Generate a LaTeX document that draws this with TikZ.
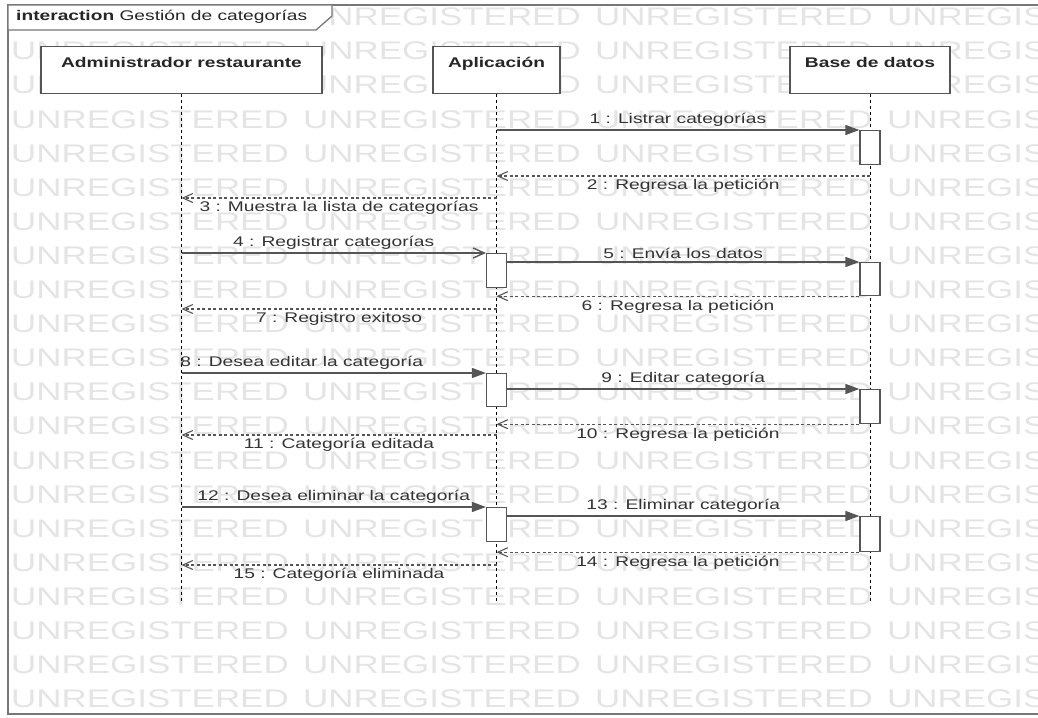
\documentclass[tikz,border=0pt]{standalone}
\usepackage{fontspec}
\setmainfont{Liberation Sans}[FakeStretch=1.37]
\usetikzlibrary{arrows.meta}
\definecolor{umlline}{HTML}{555555}
\definecolor{umlframe}{HTML}{777777}
\definecolor{umltext}{HTML}{333333}
\definecolor{umlmark}{HTML}{E4E4E4}
\newcommand{\umlfont}{\fontsize{14}{16}\selectfont}

\begin{document}
\begin{tikzpicture}[x=1pt,y=-1pt,
  head/.style={draw=umlline,fill=white,line width=1.2pt,anchor=north,minimum height=47pt,inner ysep=10pt,text height=11pt,text depth=16pt,font=\umlfont\bfseries,text=black!85},
  act/.style={draw=umlline,fill=white,line width=1.2pt,anchor=north,minimum width=20pt,inner sep=0pt},
  life/.style={draw=black,line width=0.9pt,dash pattern=on 3pt off 3pt},
  call/.style={draw=umlline,line width=1.4pt,-{Triangle[length=14pt,width=10pt]}},
  callopen/.style={draw=umlline,line width=1.4pt,-{Straight Barb[length=11pt,width=10pt]}},
  ret/.style={draw=umlline,line width=1.1pt,dash pattern=on 3pt off 2.5pt,-{Straight Barb[length=10pt,width=9pt]}},
  msg/.style={font=\umlfont,text=umltext,inner sep=3pt},
  wmark/.style={anchor=west,inner sep=0pt,font=\fontsize{25.5}{28}\selectfont,text=umlmark}]
\useasboundingbox (0,0) rectangle (1038,717);
\clip (0,0) rectangle (1038,717);
\def\yEnd{603}

% watermark (first one sits under the title tab)
\foreach \r in {0,...,20}{
  \foreach \c in {0,1,2}{
    \ifnum\r\c=00\else
    \node[wmark] (wm-\r-\c) at (11+292*\c,17+34.1*\r) {UNREGISTERED};
    \fi}
  \node[wmark] (wm-\r-3) at (887,17+34.1*\r) {UNREGIS};
}

% frame
\draw[umlframe,line width=1.3pt] (1045,5) -- (8,5) -- (8,714) -- (1045,714);
\filldraw[umlframe,fill=white,line width=1.3pt] (8,5) -- (332,5) -- (332,16) -- (316,30) -- (8,30) -- cycle;
\node[anchor=west,inner sep=0pt,font=\umlfont,text=black!85] (title) at (16,17) {\textbf{interaction} Gestión de categorías};

\path
(181.5,46) node [head,minimum width=281pt] (admin) {Administrador restaurante}
(496.5,46) node [head,minimum width=127pt] (app) {Aplicación}
(870,46) node [head,minimum width=160pt] (bd) {Base de datos}
;
\coordinate (adminEnd) at (181.5,\yEnd);
\coordinate (appEnd) at (496.5,\yEnd);
\coordinate (bdEnd) at (870,\yEnd);
\draw[life] (admin.south) -- (adminEnd);
\draw[life] (app.south) -- (appEnd);
\draw[life] (bd.south) -- (bdEnd);

% activations
\node[act,minimum height=34pt] (bd1) at (870,130) {};
\node[act,minimum height=34pt] (app1) at (496.5,253) {};
\node[act,minimum height=33pt] (bd2) at (870,262) {};
\node[act,minimum height=33pt] (app2) at (496.5,373) {};
\node[act,minimum height=34pt] (bd3) at (870,389) {};
\node[act,minimum height=34pt] (app3) at (496.5,507) {};
\node[act,minimum height=35pt] (bd4) at (870,516) {};

\coordinate (r2) at (870,176);
\coordinate (r3) at (496.5,198);
\coordinate (r7) at (496.5,309);
\coordinate (r11) at (496.5,435);
\coordinate (r15) at (496.5,565);

% messages
\draw[call] (app.south |- bd1.north) -- node[msg,above] (l1) {1 : Listrar categorías} (bd1.north west);
\draw[ret] (r2) -- node[msg,below] (l2) {2 : Regresa la petición} (app.south |- r2);
\draw[ret] (r3) -- node[msg,below] (l3) {3 : Muestra la lista de categorías} (admin.south |- r3);
\draw[callopen] (admin.south |- app1.north) -- node[msg,above] (l4) {4 : Registrar categorías} (app1.north west);
\draw[call] (app1.east |- bd2.north) -- node[msg,above] (l5) {5 : Envía los datos} (bd2.north west);
\draw[ret] (bd2.south west) -- node[msg,below] (l6) {6 : Regresa la petición} (app.south |- bd2.south);
\draw[ret] (r7) -- node[msg,below] (l7) {7 : Registro exitoso} (admin.south |- r7);
\draw[call] (admin.south |- app2.north) -- node[msg,above,xshift=-32pt] (l8) {8 : Desea editar la categoría} (app2.north west);
\draw[call] (app2.east |- bd3.north) -- node[msg,above] (l9) {9 : Editar categoría} (bd3.north west);
\draw[ret] (bd3.south west) -- node[msg,below] (l10) {10 : Regresa la petición} (app.south |- bd3.south);
\draw[ret] (r11) -- node[msg,below] (l11) {11 : Categoría editada} (admin.south |- r11);
\draw[call] (admin.south |- app3.north) -- node[msg,above] (l12) {12 : Desea eliminar la categoría} (app3.north west);
\draw[call] (app3.east |- bd4.north) -- node[msg,above] (l13) {13 : Eliminar categoría} (bd4.north west);
\draw[ret] (bd4.south west) -- node[msg,below] (l14) {14 : Regresa la petición} (app.south |- bd4.south);
\draw[ret] (r15) -- node[msg,below] (l15) {15 : Categoría eliminada} (admin.south |- r15);
\end{tikzpicture}
\end{document}
